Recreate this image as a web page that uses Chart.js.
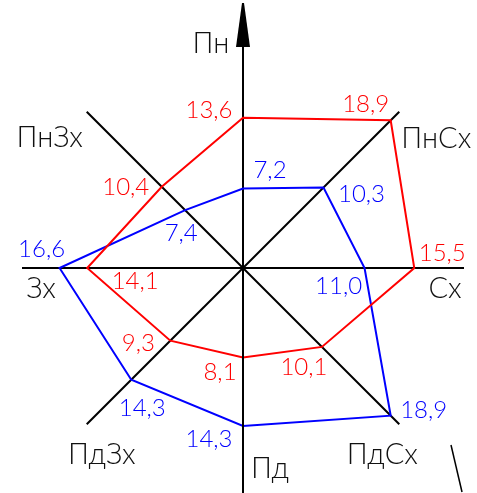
<!DOCTYPE html>
<html>
<head>
<meta charset="utf-8">
<script src="https://cdn.jsdelivr.net/npm/chart.js@4/dist/chart.umd.min.js"></script>
<style>
  body { margin: 0; background: #fff; }
  #wrap { width: 477px; height: 493px; }
</style>
</head>
<body>
<div id="wrap"><canvas id="rose" width="477" height="493"></canvas></div>
<script>
// Румби (за годинниковою стрілкою від півночі)
const directions = ['Пн', 'ПнСх', 'Сх', 'ПдСх', 'Пд', 'ПдЗх', 'Зх', 'ПнЗх'];
const redValues = [13.6, 18.9, 15.5, 10.1, 8.1, 9.3, 14.1, 10.4];
const blueValues = [7.2, 10.3, 11.0, 18.9, 14.3, 14.3, 16.6, 7.4];

// зсуви підписів відносно точок / кінців осей
const redOffsets = [[-34, 0], [-25, -8], [28, -7], [-18, 28], [-23, 22], [-32, 10], [48, 21], [-36, 8]];
const blueOffsets = [[27, -10], [38, 14], [-26, 26], [33, 2], [-34, 21], [11, 36], [-18, -11], [-4, 31]];
const dirOffsets = [[-32, 6], [37, 36], [-19, 30], [-17, 40], [27, -11], [15, 40], [19, 30], [-37, 35]];

const fmt = v => v.toFixed(1).replace('.', ',');

const roseLabels = {
    id: 'roseLabels',
    afterDatasetsDraw(chart) {
        const ctx = chart.ctx;
        const r = chart.scales.r;
        const cx = r.xCenter, cy = r.yCenter;
        ctx.save();

        // вісь Пн: стрілка вгору і продовження вниз
        ctx.strokeStyle = '#000';
        ctx.fillStyle = '#000';
        ctx.lineWidth = 2;
        ctx.beginPath();
        ctx.moveTo(cx, cy);
        ctx.lineTo(cx, chart.height);
        ctx.stroke();
        const top = r.getPointPosition(0, r.drawingArea);
        ctx.beginPath();
        ctx.moveTo(cx - 7, top.y);
        ctx.lineTo(cx + 7, top.y);
        ctx.lineTo(cx + 1, 3);
        ctx.lineTo(cx - 1, 3);
        ctx.closePath();
        ctx.fill();

        // назви румбів
        ctx.font = '300 29px Lato, "DejaVu Sans", sans-serif';
        ctx.textAlign = 'center';
        ctx.textBaseline = 'alphabetic';
        ctx.fillStyle = '#111';
        directions.forEach((d, i) => {
            const p = r.getPointPosition(i, r.drawingArea);
            ctx.fillText(d, p.x + dirOffsets[i][0], p.y + dirOffsets[i][1]);
        });

        // значення
        ctx.font = '300 24px Lato, "DejaVu Sans", sans-serif';
        [[0, redValues, redOffsets, '#ff0000'], [1, blueValues, blueOffsets, '#0000ff']].forEach(([di, vals, offs, col]) => {
            const meta = chart.getDatasetMeta(di);
            ctx.fillStyle = col;
            meta.data.forEach((pt, i) => {
                ctx.fillText(fmt(vals[i]), pt.x + offs[i][0], pt.y + offs[i][1]);
            });
        });

        // штрих у правому нижньому куті
        ctx.lineWidth = 1.5;
        ctx.strokeStyle = '#000';
        ctx.beginPath();
        ctx.moveTo(451, 445);
        ctx.lineTo(462, 492);
        ctx.stroke();

        ctx.restore();
    }
};

new Chart(document.getElementById('rose'), {
    type: 'radar',
    data: {
        labels: directions,
        datasets: [
            {
                data: redValues,
                borderColor: '#ff0000',
                borderWidth: 2,
                fill: false,
                pointRadius: 0,
                tension: 0
            },
            {
                data: blueValues,
                borderColor: '#0000ff',
                borderWidth: 2,
                fill: false,
                pointRadius: 0,
                tension: 0
            }
        ]
    },
    options: {
        responsive: false,
        animation: false,
        layout: {
            padding: { left: 22, right: 13, top: 47, bottom: 4 }
        },
        plugins: {
            legend: { display: false },
            tooltip: { enabled: false }
        },
        scales: {
            r: {
                min: 0,
                max: 20,
                ticks: { display: false },
                grid: { display: false },
                pointLabels: { display: false },
                angleLines: { color: '#000', lineWidth: 2 }
            }
        }
    },
    plugins: [roseLabels]
});
</script>
</body>
</html>
